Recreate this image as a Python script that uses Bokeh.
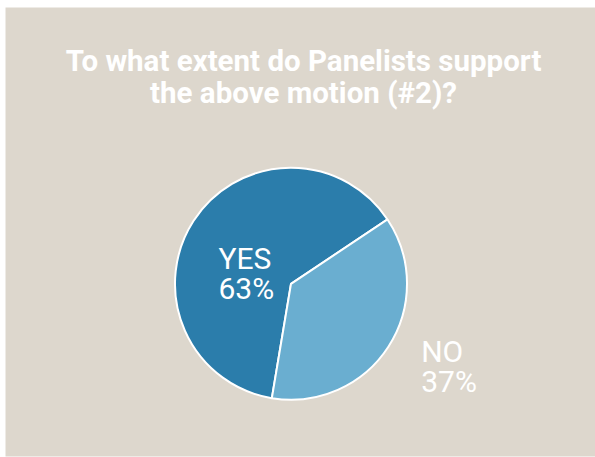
import math
from bokeh.plotting import figure
from bokeh.models import ColumnDataSource, Range1d
from bokeh.core.properties import value
from bokeh.embed import file_html
from bokeh.resources import INLINE

# ---- data ----
categories = ["YES", "NO"]
percent = [63, 37]
colors = ["#2b7dab", "#6aaed0"]
title_lines = ["To what extent do Panelists support", "the above motion (#2)?"]

# ---- layout (pixels) ----
W, H = 595, 457
FW, FH = 590, 449          # beige panel size
BG = "#ddd7cd"
cx, cy, r = 285.5, 172.7, 116.0
start_deg = 33.7

total = sum(percent)
starts, ends = [], []
a = math.radians(start_deg)
for v in percent:
    starts.append(a)
    a += 2 * math.pi * v / total
    ends.append(a)

src = ColumnDataSource(dict(cat=categories, val=percent, color=colors,
                            start=starts, end=ends,
                            x=[cx] * len(categories), y=[cy] * len(categories)))

p = figure(width=W, height=H, output_backend="svg", toolbar_location=None,
           x_range=Range1d(0, FW), y_range=Range1d(0, FH),
           min_border_left=5, min_border_top=7, min_border_right=0, min_border_bottom=1)
p.axis.visible = False
p.grid.visible = False
p.outline_line_color = None
p.background_fill_color = BG
p.border_fill_color = "white"

p.wedge(x="x", y="y", radius=r, start_angle="start", end_angle="end",
        fill_color="color", line_color="white", line_width=2, source=src)

# labels
label_pos = [(213, 198.2), (415.7, 105.5)]
lx, ly, lt = [], [], []
for (x0, y0), c, v in zip(label_pos, categories, percent):
    lx += [x0, x0]
    ly += [y0, y0 - 30.0]
    lt += [c, f"{v}%"]
p.text(x=lx, y=ly, text=lt, text_font=value("Roboto"), text_font_size="30px",
       text_color="white", text_baseline="alphabetic", text_align="left")

# title
p.text(x=[298, 298], y=[395.5, 363.5], text=title_lines, text_font=value("Roboto"),
       text_font_size="29.5px", text_font_style="bold", text_color="white",
       text_baseline="alphabetic", text_align="center")

open("out.html", "w").write(file_html(p, INLINE))
